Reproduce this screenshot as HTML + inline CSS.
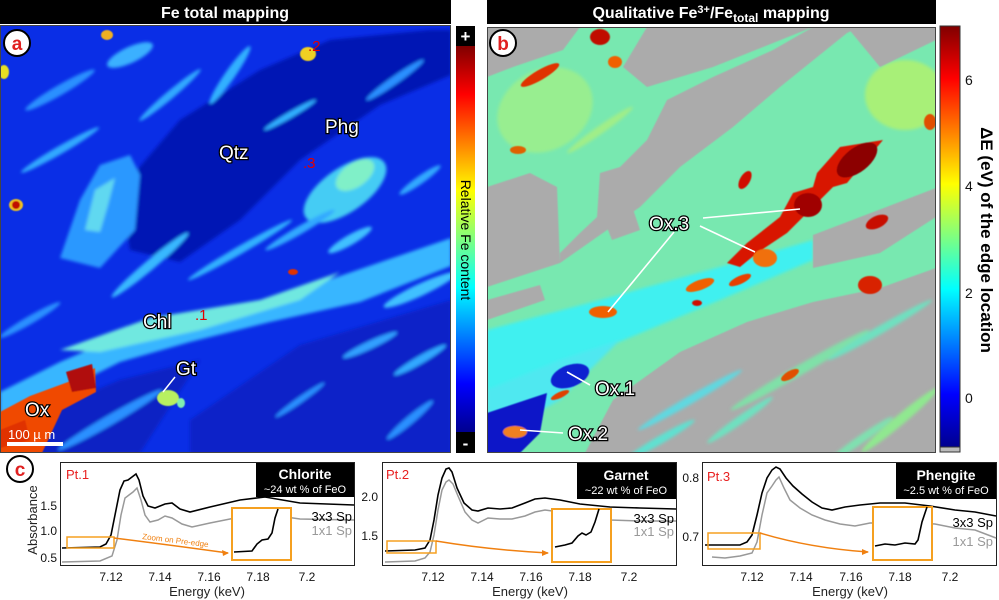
<!DOCTYPE html>
<html><head><meta charset="utf-8"><style>
html,body{margin:0;padding:0;background:#fff}
svg{display:block;font-family:"Liberation Sans",sans-serif}
.lbl{fill:#fff;font-size:19px;paint-order:stroke;stroke:#000;stroke-width:2.5px}
.tk{font-size:12px;fill:#111}
</style></head><body>
<svg width="999" height="600" viewBox="0 0 999 600" xmlns="http://www.w3.org/2000/svg">
<defs>
<linearGradient id="jet" x1="0" y1="1" x2="0" y2="0">
<stop offset="0" stop-color="#00008f"/><stop offset=".125" stop-color="#0000ff"/><stop offset=".375" stop-color="#00ffff"/><stop offset=".625" stop-color="#ffff00"/><stop offset=".875" stop-color="#ff0000"/><stop offset="1" stop-color="#800000"/>
</linearGradient>
<clipPath id="ca"><rect x="0" y="25" width="451" height="428"/></clipPath>
<clipPath id="cb"><rect x="487" y="27" width="449" height="426"/></clipPath>
<filter id="bl"><feGaussianBlur stdDeviation="1.6"/></filter>
<filter id="bl2"><feGaussianBlur stdDeviation="0.6"/></filter>
</defs>

<rect x="0" y="0" width="451" height="24" fill="#000"/>
<text x="225" y="18" text-anchor="middle" fill="#fff" font-weight="bold" font-size="16">Fe total mapping</text>
<rect x="487" y="0" width="449" height="24" fill="#000"/>
<text x="711" y="18" text-anchor="middle" fill="#fff" font-weight="bold" font-size="16">Qualitative Fe<tspan font-size="11" dy="-5">3+</tspan><tspan dy="5">/Fe</tspan><tspan font-size="12" dy="4">total</tspan><tspan dy="-4"> mapping</tspan></text>

<!-- Map a -->
<g clip-path="url(#ca)">
<rect x="0" y="25" width="451" height="428" fill="#0a2ee6"/>
<g filter="url(#bl)">
<polygon points="120,190 180,120 260,70 330,40 430,30 451,30 451,75 380,105 300,160 240,220 180,262 130,250" fill="#0016b4"/>
<polygon points="190,420 300,345 451,300 451,453 190,453" fill="#0a22c8"/>
<polygon points="0,455 0,430 120,380 200,360 140,453" fill="#0a20c4"/>
<polygon points="105,178 128,172 135,205 122,222 108,210" fill="#0014a8"/>
<polygon points="0,392 60,362 130,332 200,312 280,296 340,276 451,238 451,266 360,302 270,322 190,342 120,362 40,402 0,422" fill="#38b6ff"/>
<polygon points="60,350 150,318 260,300 340,272 300,300 200,330 100,352" fill="#70e8e0"/>
<polygon points="60,258 80,200 100,165 130,155 140,175 135,230 100,268" fill="#2c98ff"/>
<polygon points="85,230 95,190 115,178 108,205 100,232" fill="#60d8f0"/>
<ellipse cx="345" cy="190" rx="48" ry="22" transform="rotate(-35 345 190)" fill="#44ccf4"/>
<ellipse cx="355" cy="175" rx="22" ry="12" transform="rotate(-35 355 175)" fill="#80f0c8"/>
<ellipse cx="230" cy="75" rx="35" ry="5" transform="rotate(-55 230 75)" fill="#30b0ff"/>
<ellipse cx="290" cy="115" rx="30" ry="3" transform="rotate(-30 290 115)" fill="#30b0ff"/>
<ellipse cx="130" cy="55" rx="25" ry="8" transform="rotate(-25 130 55)" fill="#3ab0ff"/>
<ellipse cx="60" cy="90" rx="40" ry="5" transform="rotate(-30 60 90)" fill="#2a90ff"/>
<ellipse cx="395" cy="80" rx="35" ry="4" transform="rotate(-35 395 80)" fill="#2a90ff"/>
<ellipse cx="420" cy="290" rx="40" ry="6" transform="rotate(-25 420 290)" fill="#40c0ff"/>
<ellipse cx="370" cy="345" rx="30" ry="4" transform="rotate(-25 370 345)" fill="#30a0ff"/>
<ellipse cx="110" cy="420" rx="60" ry="5" transform="rotate(-30 110 420)" fill="#2a90ff"/>
<ellipse cx="20" cy="420" rx="20" ry="10" fill="#40c0ff"/>
<ellipse cx="420" cy="180" rx="25" ry="4" transform="rotate(-35 420 180)" fill="#30a8ff"/>
<ellipse cx="240" cy="250" rx="60" ry="4" transform="rotate(-30 240 250)" fill="#30b0ff"/>
<ellipse cx="410" cy="420" rx="30" ry="4" transform="rotate(-40 410 420)" fill="#2a90ff"/>
<ellipse cx="60" cy="150" rx="45" ry="4" transform="rotate(-30 60 150)" fill="#30a8ff"/>
<ellipse cx="170" cy="95" rx="40" ry="4" transform="rotate(-40 170 95)" fill="#30a8ff"/>
<ellipse cx="150" cy="265" rx="50" ry="5" transform="rotate(-40 150 265)" fill="#38b8ff"/>
<ellipse cx="30" cy="320" rx="35" ry="4" transform="rotate(-30 30 320)" fill="#2a90ff"/>
<ellipse cx="300" cy="230" rx="40" ry="4" transform="rotate(-30 300 230)" fill="#30a8ff"/>
<ellipse cx="420" cy="360" rx="30" ry="4" transform="rotate(-30 420 360)" fill="#30a8ff"/>
<ellipse cx="300" cy="400" rx="30" ry="3" transform="rotate(-35 300 400)" fill="#2a90ff"/>
<ellipse cx="350" cy="240" rx="25" ry="5" transform="rotate(-30 350 240)" fill="#40c0ff"/>
</g>
<g filter="url(#bl2)">
<polygon points="0,412 30,396 68,382 95,368 96,392 62,410 42,453 0,453" fill="#f04800"/>
<polygon points="66,372 92,364 96,388 72,392" fill="#b00808"/>
<polygon points="0,430 25,420 30,440 0,448" fill="#e03000"/>
<ellipse cx="308" cy="54" rx="8" ry="7" fill="#f0d020"/>
<ellipse cx="16" cy="205" rx="7" ry="6" fill="#f0c020"/><ellipse cx="16" cy="205" rx="4" ry="4" fill="#c01000"/>
<ellipse cx="4" cy="72" rx="5" ry="7" fill="#e8e020"/>
<ellipse cx="168" cy="398" rx="11" ry="8" fill="#b8f060"/><ellipse cx="181" cy="403" rx="4" ry="5" fill="#80f0b0"/>
<ellipse cx="293" cy="272" rx="5" ry="3" fill="#e03000"/>
<ellipse cx="107" cy="35" rx="6" ry="5" fill="#f0b020"/>
</g>
</g>
<rect x="0.5" y="25.5" width="450" height="427" fill="none" stroke="#444"/>
<text class="lbl" x="325" y="133">Phg</text>
<text class="lbl" x="219" y="159">Qtz</text>
<text class="lbl" x="143" y="328">Chl</text>
<text class="lbl" x="176" y="375">Gt</text>
<line x1="163" y1="392" x2="175" y2="377" stroke="#fff" stroke-width="1.5"/>
<text class="lbl" x="25" y="416">Ox</text>
<text x="8" y="439" fill="#fff" font-size="13">100 µ m</text>
<rect x="7" y="442" width="56" height="4" fill="#fff"/>
<text x="308" y="51" fill="#e00000" font-size="15">.2</text>
<text x="303" y="168" fill="#e00000" font-size="15">.3</text>
<text x="195" y="320" fill="#e00000" font-size="15">.1</text>
<circle cx="17" cy="43" r="13" fill="#fff" stroke="#000" stroke-width="2"/>
<text x="17" y="50" text-anchor="middle" fill="#e02020" font-weight="bold" font-size="19">a</text>

<rect x="456" y="26" width="19" height="427" fill="#000"/>
<rect x="456" y="46" width="19" height="386" fill="url(#jet)"/>
<text x="465.5" y="42" text-anchor="middle" fill="#fff" font-weight="bold" font-size="17">+</text>
<text x="465.5" y="449" text-anchor="middle" fill="#fff" font-weight="bold" font-size="17">-</text>
<text transform="translate(461 240) rotate(90)" text-anchor="middle" font-size="14" fill="#000">Relative Fe content</text>

<!-- Map b -->
<g clip-path="url(#cb)">
<rect x="487" y="27" width="449" height="426" fill="#78e8b0"/>
<g filter="url(#bl)">
<ellipse cx="545" cy="110" rx="50" ry="40" transform="rotate(-30 545 110)" fill="#98ee90"/>
<ellipse cx="905" cy="95" rx="40" ry="35" fill="#a8f078"/>
<ellipse cx="850" cy="380" rx="90" ry="40" fill="#90ec98"/>
<polygon points="487,330 600,300 720,267 813,240 813,260 720,300 600,350 540,390 487,420" fill="#40f0f0"/>
<polygon points="487,390 560,360 620,340 560,400 487,440" fill="#50e8f0"/>
<ellipse cx="520" cy="250" rx="30" ry="5" transform="rotate(-30 520 250)" fill="#50e0e0"/>
<ellipse cx="600" cy="130" rx="40" ry="4" transform="rotate(-35 600 130)" fill="#a0ee88"/>
</g>
<g fill="#ababab" filter="url(#bl2)">
<polygon points="560,263 640,207 680,167 733,127 780,87 847,33 860,27 813,27 773,50 713,77 667,100 647,140 620,167 600,173 597,217 580,233 560,253"/>
<polygon points="487,187 530,173 557,187 560,263 487,287"/>
<polygon points="585,453 613,400 680,352 747,322 813,302 880,288 936,268 936,453"/>
<polygon points="487,27 580,27 563,50 513,67 487,77"/>
<polygon points="647,27 813,27 713,67 647,87 623,67"/>
<polygon points="813,235 936,188 936,217 880,253 813,268"/>
<polygon points="847,27 936,27 936,40 880,67"/>
<polygon points="600,210 630,200 640,230 612,240"/>
<polygon points="487,300 540,285 545,300 487,320"/>
</g>
<g filter="url(#bl)">
<ellipse cx="690" cy="400" rx="60" ry="4" transform="rotate(-30 690 400)" fill="#60d8e0"/>
<ellipse cx="800" cy="370" rx="80" ry="5" transform="rotate(-30 800 370)" fill="#80e0a8"/>
<ellipse cx="880" cy="330" rx="60" ry="4" transform="rotate(-30 880 330)" fill="#70e0c0"/>
<ellipse cx="900" cy="420" rx="50" ry="5" transform="rotate(-40 900 420)" fill="#90e890"/>
<ellipse cx="660" cy="440" rx="40" ry="4" transform="rotate(-30 660 440)" fill="#60e0d0"/>
<ellipse cx="740" cy="420" rx="40" ry="4" transform="rotate(-35 740 420)" fill="#70e0c0"/>
<ellipse cx="860" cy="440" rx="40" ry="4" transform="rotate(-35 860 440)" fill="#80e0b0"/>
</g>
<g filter="url(#bl2)">
<polygon points="817,173 840,147 883,140 847,183 833,187 813,207 787,233 757,253 740,267 727,263 747,243 780,217 793,193 813,187" fill="#d81800"/>
<ellipse cx="857" cy="160" rx="24" ry="12" transform="rotate(-38 857 160)" fill="#8c0000"/>
<ellipse cx="808" cy="205" rx="14" ry="12" fill="#a00000"/>
<ellipse cx="765" cy="258" rx="12" ry="9" fill="#f07010"/>
<ellipse cx="603" cy="312" rx="14" ry="6" fill="#f06000"/>
<ellipse cx="745" cy="180" rx="5" ry="10" transform="rotate(30 745 180)" fill="#d01000"/>
<ellipse cx="540" cy="75" rx="22" ry="5" transform="rotate(-30 540 75)" fill="#e03000"/>
<ellipse cx="600" cy="37" rx="10" ry="8" fill="#c01000"/>
<ellipse cx="615" cy="62" rx="7" ry="6" fill="#f06000"/>
<ellipse cx="877" cy="222" rx="12" ry="6" transform="rotate(-25 877 222)" fill="#c81000"/>
<ellipse cx="870" cy="285" rx="12" ry="9" fill="#d82000"/>
<ellipse cx="700" cy="285" rx="15" ry="5" transform="rotate(-20 700 285)" fill="#f06000"/>
<ellipse cx="740" cy="280" rx="12" ry="4" transform="rotate(-25 740 280)" fill="#e84000"/>
<ellipse cx="697" cy="303" rx="5" ry="3" fill="#d01000"/>
<ellipse cx="930" cy="122" rx="6" ry="8" fill="#e05000"/>
<ellipse cx="790" cy="375" rx="10" ry="4" transform="rotate(-30 790 375)" fill="#e05000"/>
<ellipse cx="518" cy="150" rx="8" ry="4" fill="#e06000"/>
<polygon points="487,413 547,393 540,433 520,453 487,453" fill="#0818c8"/>
<ellipse cx="570" cy="376" rx="20" ry="11" transform="rotate(-20 570 376)" fill="#1020d0"/>
<ellipse cx="515" cy="432" rx="12" ry="6" fill="#f08020"/>
<ellipse cx="560" cy="395" rx="10" ry="3" transform="rotate(-25 560 395)" fill="#e04000"/>
</g>
</g>
<rect x="487.5" y="27.5" width="448" height="425" fill="none" stroke="#444"/>
<g stroke="#fff" stroke-width="1.6">
<line x1="703" y1="218" x2="800" y2="209"/>
<line x1="700" y1="226" x2="755" y2="252"/>
<line x1="674" y1="232" x2="608" y2="312"/>
<line x1="567" y1="372" x2="590" y2="385"/>
<line x1="520" y1="430" x2="563" y2="433"/>
</g>
<text class="lbl" x="649" y="230" font-size="20">Ox.3</text>
<text class="lbl" x="595" y="395">Ox.1</text>
<text class="lbl" x="568" y="440">Ox.2</text>
<circle cx="503" cy="43" r="13" fill="#fff" stroke="#000" stroke-width="2"/>
<text x="503" y="50" text-anchor="middle" fill="#e02020" font-weight="bold" font-size="19">b</text>

<rect x="940" y="26" width="20" height="421" fill="url(#jet)" stroke="#333"/>
<rect x="940" y="447" width="20" height="5" fill="#bbb" stroke="#333"/>
<g font-size="14" fill="#111">
<text x="965" y="85">6</text>
<text x="965" y="191">4</text>
<text x="965" y="298">2</text>
<text x="965" y="403">0</text>
</g>
<text transform="translate(981 240) rotate(90)" text-anchor="middle" font-size="17" font-weight="bold" fill="#000">ΔE (eV) of the edge location</text>

<!-- c -->
<circle cx="20" cy="469" r="13" fill="#fff" stroke="#000" stroke-width="2"/>
<text x="20" y="476" text-anchor="middle" fill="#e02020" font-weight="bold" font-size="19">c</text>
<text transform="translate(37 520) rotate(-90)" text-anchor="middle" font-size="13" fill="#222">Absorbance</text>

<g>
<rect x="60.5" y="462.5" width="294" height="103" fill="#fff" stroke="#222"/>
<g class="tk" text-anchor="middle">
<text x="111" y="581">7.12</text><text x="160" y="581">7.14</text><text x="209" y="581">7.16</text><text x="258" y="581">7.18</text><text x="307" y="581">7.2</text>
</g>
<g class="tk" text-anchor="end"><text x="57" y="510">1.5</text><text x="57" y="535">1.0</text><text x="57" y="562">0.5</text></g>
<text x="207" y="596" text-anchor="middle" font-size="13" fill="#222">Energy (keV)</text>
<path d="M62,562 L100,561 L112,556 L117,540 L121,515 L125,498 L129,495 L133,492 L137,488 L141,500 L145,515 L150,522 L158,520 L165,516 L172,518 L182,524 L192,527 L210,523 L240,517 L265,514 L300,519 L354,520" fill="none" stroke="#999" stroke-width="1.5"/>
<path d="M62,548 L100,547 L106,544 L111,535 L116,510 L120,490 L124,481 L128,480 L132,477 L136,474 L139,480 L143,496 L148,506 L155,508 L165,504 L172,503 L180,509 L190,512 L210,507 L240,500 L265,497 L300,503 L354,505" fill="none" stroke="#000" stroke-width="1.6"/>
<rect x="256" y="463" width="98" height="34" fill="#000"/>
<text x="305" y="479" text-anchor="middle" fill="#fff" font-weight="bold" font-size="14">Chlorite</text>
<text x="305" y="493" text-anchor="middle" fill="#fff" font-size="11">~24 wt % of FeO</text>
<rect x="232" y="508" width="59" height="52" fill="#fff" stroke="#f5a020" stroke-width="2"/>
<path d="M234,552 L252,551 L257,544 L262,540 L268,539 L272,533 L275,518 L278,509" fill="none" stroke="#000" stroke-width="1.6"/>
<rect x="67" y="537" width="47" height="11" fill="none" stroke="#f5a020" stroke-width="1.5"/>
<path d="M114,538 Q170,545 228,553" fill="none" stroke="#f08010" stroke-width="1.5"/>
<polygon points="229,553 222,550 223,556" fill="#f08010"/>
<text transform="translate(142 539) rotate(7)" font-size="8" fill="#f08010">Zoom on Pre-edge</text>
<text x="352" y="521" text-anchor="end" font-size="13" fill="#000">3x3 Sp</text>
<text x="352" y="535" text-anchor="end" font-size="13" fill="#999">1x1 Sp</text>
<text x="66" y="479" font-size="13" fill="#e82020">Pt.1</text>
</g>

<g>
<rect x="382.5" y="462.5" width="294" height="103" fill="#fff" stroke="#222"/>
<g class="tk" text-anchor="middle">
<text x="433" y="581">7.12</text><text x="482" y="581">7.14</text><text x="531" y="581">7.16</text><text x="580" y="581">7.18</text><text x="629" y="581">7.2</text>
</g>
<g class="tk" text-anchor="end"><text x="378" y="501">2.0</text><text x="378" y="540">1.5</text></g>
<text x="530" y="596" text-anchor="middle" font-size="13" fill="#222">Energy (keV)</text>
<path d="M385,562 L415,561 L425,558 L430,552 L434,535 L438,510 L442,490 L446,482 L449,480 L453,484 L458,496 L465,512 L472,520 L478,523 L488,518 L500,519 L512,519 L525,516 L535,512 L545,510 L560,512 L580,518 L610,520 L640,521 L676,521" fill="none" stroke="#999" stroke-width="1.5"/>
<path d="M385,551 L415,550 L425,548 L430,540 L434,520 L438,495 L442,478 L446,469 L449,468 L452,472 L457,488 L464,503 L472,510 L478,511 L488,508 L500,509 L512,508 L525,503 L535,499 L545,498 L560,500 L580,504 L610,507 L640,508 L676,509" fill="none" stroke="#000" stroke-width="1.6"/>
<rect x="577" y="463" width="99" height="36" fill="#000"/>
<text x="626" y="480" text-anchor="middle" fill="#fff" font-weight="bold" font-size="14">Garnet</text>
<text x="626" y="494" text-anchor="middle" fill="#fff" font-size="11">~22 wt % of FeO</text>
<rect x="552" y="509" width="59" height="53" fill="#fff" stroke="#f5a020" stroke-width="2"/>
<path d="M555,547 L565,545 L572,543 L578,536 L582,533 L586,535 L591,532 L595,522 L599,509" fill="none" stroke="#000" stroke-width="1.6"/>
<rect x="387" y="541" width="49" height="12" fill="none" stroke="#f5a020" stroke-width="1.5"/>
<path d="M436,541 Q490,550 548,553" fill="none" stroke="#f08010" stroke-width="1.5"/>
<polygon points="549,553 542,550 542,556" fill="#f08010"/>
<text x="674" y="523" text-anchor="end" font-size="13" fill="#000">3x3 Sp</text>
<text x="674" y="536" text-anchor="end" font-size="13" fill="#999">1x1 Sp</text>
<text x="386" y="479" font-size="13" fill="#e82020">Pt.2</text>
</g>

<g>
<rect x="702.5" y="462.5" width="294" height="103" fill="#fff" stroke="#222"/>
<g class="tk" text-anchor="middle">
<text x="752" y="581">7.12</text><text x="801" y="581">7.14</text><text x="851" y="581">7.16</text><text x="900" y="581">7.18</text><text x="950" y="581">7.2</text>
</g>
<g class="tk" text-anchor="end"><text x="699" y="482">0.8</text><text x="699" y="541">0.7</text></g>
<text x="850" y="596" text-anchor="middle" font-size="13" fill="#222">Energy (keV)</text>
<path d="M712,557 L725,558 L740,556 L752,553 L757,542 L762,515 L767,493 L772,486 L776,480 L779,477 L784,488 L790,500 L800,508 L812,515 L825,520 L840,524 L855,526 L870,523 L890,523 L915,523 L935,524 L955,528 L975,530 L996,538" fill="none" stroke="#999" stroke-width="1.5"/>
<path d="M705,545 L720,545 L740,545 L747,542 L752,535 L757,515 L762,493 L767,478 L772,470 L776,467 L780,469 L786,478 L793,486 L802,494 L812,502 L822,508 L832,510 L845,507 L860,505 L880,503 L905,503 L930,506 L955,510 L975,512 L996,516" fill="none" stroke="#000" stroke-width="1.6"/>
<rect x="896" y="463" width="100" height="36" fill="#000"/>
<text x="946" y="480" text-anchor="middle" fill="#fff" font-weight="bold" font-size="14">Phengite</text>
<text x="946" y="494" text-anchor="middle" fill="#fff" font-size="11">~2.5 wt % of FeO</text>
<rect x="873" y="507" width="59" height="53" fill="#fff" stroke="#f5a020" stroke-width="2"/>
<path d="M875,546 L885,544 L895,545 L905,543 L915,544 L918,540 L922,522 L927,507" fill="none" stroke="#000" stroke-width="1.6"/>
<rect x="708" y="533" width="52" height="16" fill="none" stroke="#f5a020" stroke-width="1.5"/>
<path d="M760,533 Q810,548 868,552" fill="none" stroke="#f08010" stroke-width="1.5"/>
<polygon points="869,552 862,549 862,555" fill="#f08010"/>
<text x="993" y="527" text-anchor="end" font-size="13" fill="#000">3x3 Sp</text>
<text x="993" y="546" text-anchor="end" font-size="13" fill="#999">1x1 Sp</text>
<text x="707" y="481" font-size="13" fill="#e82020">Pt.3</text>
</g>
</svg>
</body></html>
